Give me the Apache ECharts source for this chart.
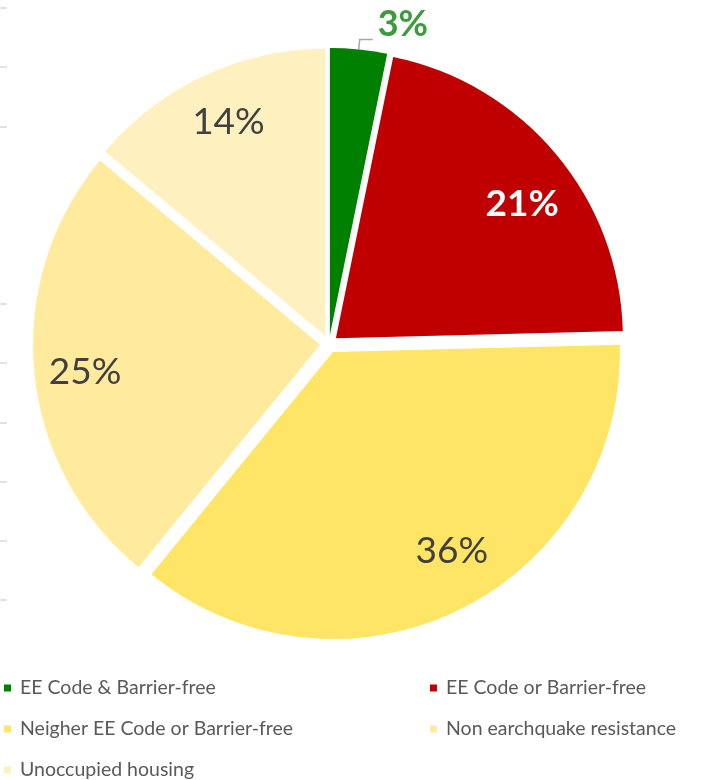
<!DOCTYPE html>
<html>
<head>
<meta charset="utf-8">
<style>
  html, body { margin: 0; padding: 0; background: #ffffff; }
  #chart { width: 705px; height: 780px; }
</style>
<script src="https://cdn.jsdelivr.net/npm/echarts@6/dist/echarts.min.js"></script>
</head>
<body>
<div id="chart"></div>
<script>
// Housing stock by earthquake-code / barrier-free status (share, %)
const categories = [
  'EE Code & Barrier-free',
  'EE Code or Barrier-free',
  'Neigher EE Code or Barrier-free',
  'Non earchquake resistance',
  'Unoccupied housing'
];
const shares = [3.2, 21.4, 36.3, 25.2, 13.9];
const sliceColors = ['#008000', '#C00000', '#FFE566', '#FFEA9E', '#FFF0C0'];

// fine placement nudges for the inside percentage labels
const labelNudges = [[0, 0], [0, 22], [12, -19], [7, 4], [6, 6]];

// faint guide ticks down the left edge (two of them are absent)
const guideTicks = ['0', '1', '2', '3', '4', '5', '6', '7', '8', '9', '10'];
const hiddenGuideTicks = [6, 7];

const FONT = 'Lato';
const CENTER = [329, 344];
const RADIUS = 287;
const EXPLODE = 9;

const chart = echarts.init(document.getElementById('chart'), null, { renderer: 'canvas' });

const pct = p => Math.round(p.value) + '%';

const wedgeData = categories.map((name, i) => ({
  name,
  value: shares[i],
  selected: true,
  itemStyle: { color: sliceColors[i] },
  label: i === 0 ? {
    show: true,
    position: 'outside',
    formatter: p => '{v|' + pct(p) + '}\n{gap|}',
    rich: {
      v: { color: '#3C9B3C', fontFamily: FONT, fontWeight: 'bold', fontSize: 36, lineHeight: 38 },
      gap: { height: 30, lineHeight: 30 }
    }
  } : { show: false },
  labelLine: i === 0 ? {
    show: true,
    length: 10,
    length2: 13,
    lineStyle: { color: '#A6A6A6', width: 1.5 }
  } : { show: false }
}));

// a thin invisible ring that carries the inside percentage labels
const labelData = categories.map((name, i) => ({
  name,
  value: shares[i],
  selected: true,
  itemStyle: { color: 'rgba(0,0,0,0)' },
  label: {
    show: i !== 0,
    color: i === 1 ? '#FFFFFF' : '#404040',
    fontWeight: i === 1 ? 'bold' : 'normal'
  }
}));

const legendText = { color: '#595959', fontFamily: FONT, fontSize: 19.5, lineHeight: 20, padding: [0, 0, 0, 4] };

const option = {
  backgroundColor: '#ffffff',
  animation: false,
  grid: { left: 0, top: 8, height: 592, width: 20, containLabel: false },
  xAxis: { type: 'value', show: false },
  yAxis: {
    type: 'category',
    data: guideTicks,
    boundaryGap: false,
    axisLine: { show: false },
    axisLabel: { show: false },
    splitLine: { show: false },
    axisTick: {
      show: true,
      inside: true,
      length: 7,
      interval: (index) => !hiddenGuideTicks.includes(index),
      lineStyle: { color: '#D9D9D9', width: 1.5 }
    }
  },
  legend: [
    {
      data: [categories[0], categories[2], categories[4]],
      orient: 'vertical',
      left: 4,
      top: 678,
      padding: 0,
      itemWidth: 7,
      itemHeight: 7,
      itemGap: 21,
      icon: 'rect',
      textStyle: legendText
    },
    {
      data: [categories[1], categories[3]],
      orient: 'vertical',
      left: 430,
      top: 678,
      padding: 0,
      itemWidth: 7,
      itemHeight: 7,
      itemGap: 21,
      icon: 'rect',
      textStyle: legendText
    }
  ],
  series: [
    {
      type: 'pie',
      center: CENTER,
      radius: [0, RADIUS],
      startAngle: 90,
      clockwise: true,
      selectedMode: 'multiple',
      selectedOffset: EXPLODE,
      avoidLabelOverlap: false,
      silent: true,
      itemStyle: { borderWidth: 0 },
      select: { itemStyle: { borderWidth: 0 } },
      emphasis: { disabled: true },
      data: wedgeData
    },
    {
      type: 'pie',
      center: CENTER,
      radius: [228, 252],
      startAngle: 90,
      clockwise: true,
      selectedMode: 'multiple',
      selectedOffset: EXPLODE,
      avoidLabelOverlap: false,
      silent: true,
      label: {
        position: 'inside',
        formatter: pct,
        fontFamily: FONT,
        fontSize: 37
      },
      labelLayout: params => ({
        dx: labelNudges[params.dataIndex][0],
        dy: labelNudges[params.dataIndex][1]
      }),
      labelLine: { show: false },
      itemStyle: { borderWidth: 0 },
      select: { itemStyle: { borderWidth: 0 } },
      emphasis: { disabled: true },
      data: labelData
    }
  ]
};

chart.setOption(option);
</script>
</body>
</html>
